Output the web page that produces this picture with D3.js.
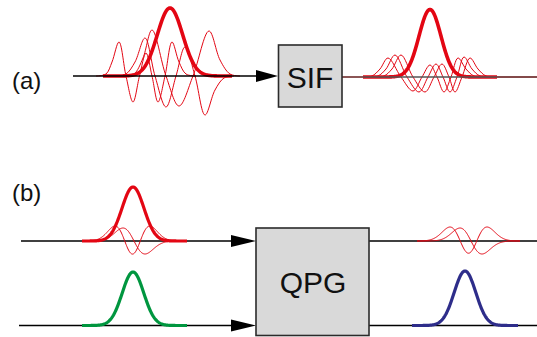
<!DOCTYPE html>
<html>
<head>
<meta charset="utf-8">
<script src="https://cdn.jsdelivr.net/npm/d3@7"></script>
<style>
body { margin: 0; background: #fff; }
svg text { font-family: "Liberation Sans", Arial, Helvetica, sans-serif; fill: #111; }
</style>
</head>
<body>
<div id="diagram"></div>
<script>
// ---- data (x in px along the beam, height in px above the line) ----

// (a) input: dispersed modes in front of the SIF (lobe positions / heights)
var sifInThin = [
  [[96,0],[106,2],[112,14],[119,34],[126,0],[133,-26],[139.5,0],[146,23],[152,0],[158,-26],[165,0],[172,34],[179,14],[186,2],[196,0]],
  [[116,0],[126,2],[135,14],[145,38],[155,0],[166,-31],[176,0],[185,29],[195,0],[205,-39],[215,-14],[224,-2],[234,0]],
  [[124,0],[134,2],[143,18],[152,46],[166,0],[179,-30],[193,0],[209,45],[220,16],[230,2],[240,0]]
];
// (a) output: higher modes behind the SIF
var sifOutThin = [
  [[363,0],[372,1],[380,8],[388,19],[401,0],[413,-14],[422,0],[430,12],[437,0],[444,-15],[451,0],[458,19],[466,8],[474,1],[485,0]],
  [[369,0],[378,1],[386,8],[395,22],[407,0],[419,-15],[428,0],[436,13],[443,0],[450,-15],[457,0],[464,20],[472,8],[480,1],[491,0]],
  [[375,0],[384,1],[392,8],[401,22],[413,0],[425,-15],[434,0],[442,13],[449,0],[455,-15],[462,0],[470,19],[478,8],[486,1],[497,0]]
];

// hermite-gauss pulses: order, center, width (sigma), height of largest lobe, sign, range
var modeOrder  = [0,   0,   1,   2,   0,   1,   2,   0,   0];
var modeCenter = [170, 430, 134, 132.5, 133, 471, 468.5, 133, 465];
var modeSigma  = [12.7, 11, 11, 11,  11, 11,  11.7, 10.8, 10.8];
var modeHeight = [68,  67.5, 13, 15, 54,  13,  14,  53.5, 54.5];
var modeSign   = [1,   1,  -1,  1,   1,  -1,   1,   1,   1];
var modeFrom   = [103, 363, 84, 84,  82,  417, 417, 82,  412];
var modeTo     = [232, 497, 185, 185, 187, 520, 520, 187, 518];
var modeRow    = ["a", "a", "b1", "b1", "b1", "b1", "b1", "b2", "b2"];
var modeColor  = ["red", "red", "red", "red", "red", "red", "red", "green", "blue"];
var modeThick  = [true, true, false, false, true, false, false, true, true];

var labels = ["(a)", "(b)"];
var boxNames = ["SIF", "QPG"];

// ---- layout ----
var width = 537, height = 337;
var colors = {red: "#e30613", green: "#00963f", blue: "#2e2d8a"};
var baseA = 77, baseB1 = 241, baseB2 = 325.5;

var svg = d3.select("#diagram")
  .append("svg")
    .attr("width", width)
    .attr("height", height);

var x = d3.scaleLinear().domain([0, width]).range([0, width]);
var yRow = {
  a:  d3.scaleLinear().domain([0, 68]).range([baseA, baseA - 68]),
  b1: d3.scaleLinear().domain([0, 54]).range([baseB1, baseB1 - 54]),
  b2: d3.scaleLinear().domain([0, 54]).range([baseB2, baseB2 - 54])
};
var yIn = d3.scaleLinear().domain([0, 68]).range([76, 8]);

function hermite(n, t) {
  var h0 = 1, h1 = 2 * t;
  if (n == 0) return h0;
  for (var k = 1; k < n; k++) {
    var h2 = 2 * t * h1 - 2 * k * h0;
    h0 = h1; h1 = h2;
  }
  return h1;
}
function modeShape(n, t) { return hermite(n, t) * Math.exp(-t * t / 2); }
function modePeak(n) {
  var m = 0;
  for (var t = -6; t <= 6; t += 0.01) m = Math.max(m, Math.abs(modeShape(n, t)));
  return m;
}

// lines with arrows
function beam(x0, x1, y, color) {
  svg.append("line")
    .attr("x1", x(x0)).attr("x2", x(x1))
    .attr("y1", y).attr("y2", y)
    .attr("stroke", color || "#000")
    .attr("stroke-width", 1.4);
}
function arrowHead(tip, y, len) {
  svg.append("path")
    .attr("d", "M" + (tip - len) + "," + (y - 6) + "L" + tip + "," + y + "L" + (tip - len) + "," + (y + 6) + "Z")
    .attr("fill", "#000");
}

var thinLine = d3.line()
  .x(function(d) { return x(d[0]); })
  .curve(d3.curveCatmullRom.alpha(0.5));

// (a) input side
sifInThin.forEach(function(pts) {
  svg.append("path")
    .datum(pts)
    .attr("fill", "none")
    .attr("stroke", colors.red)
    .attr("stroke-width", 1)
    .attr("d", thinLine.y(function(d) { return yIn(d[1]); }));
});
// (a) output side thin curves
sifOutThin.forEach(function(pts) {
  svg.append("path")
    .datum(pts)
    .attr("fill", "none")
    .attr("stroke", colors.red)
    .attr("stroke-width", 1)
    .attr("d", thinLine.y(function(d) { return yRow.a(d[1]); }));
});

// hermite-gauss pulses (thin first, thick on top)
var order = d3.range(modeOrder.length).sort(function(a, b) { return modeThick[a] - modeThick[b]; });
order.forEach(function(i) {
  var pk = modePeak(modeOrder[i]);
  var pts = d3.range(modeFrom[i], modeTo[i] + 0.01, 0.5).map(function(px) {
    var t = (px - modeCenter[i]) / modeSigma[i];
    return [px, modeSign[i] * modeHeight[i] * modeShape(modeOrder[i], t) / pk];
  });
  var y = yRow[modeRow[i]];
  if (i == 0) y = yIn;
  svg.append("path")
    .datum(pts)
    .attr("fill", "none")
    .attr("stroke", colors[modeColor[i]])
    .attr("stroke-width", modeThick[i] ? (modeRow[i] == "a" ? 3.6 : 3.2) : 1)
    .attr("stroke-linejoin", "round")
    .attr("d", d3.line().x(function(d) { return x(d[0]); }).y(function(d) { return y(d[1]); }));
});

// beams
beam(73, 262, 76);
arrowHead(278, 76, 22);
beam(342, 363, baseA, "#5a0e0e");
beam(363, 497, baseA, "#555");
beam(497, width, baseA, "#5a0e0e");

svg.insert("line", ":first-child")
  .attr("x1", 21).attr("x2", 240).attr("y1", baseB1).attr("y2", baseB1)
  .attr("stroke", "#000").attr("stroke-width", 1.4);
svg.insert("line", ":first-child")
  .attr("x1", 19).attr("x2", 240).attr("y1", baseB2).attr("y2", baseB2)
  .attr("stroke", "#000").attr("stroke-width", 1.4);
arrowHead(256, baseB1, 25);
arrowHead(256, baseB2, 25);
svg.insert("line", ":first-child")
  .attr("x1", 369).attr("x2", width).attr("y1", baseB1).attr("y2", baseB1)
  .attr("stroke", "#000").attr("stroke-width", 1.4);
svg.insert("line", ":first-child")
  .attr("x1", 369).attr("x2", width).attr("y1", baseB2).attr("y2", baseB2)
  .attr("stroke", "#000").attr("stroke-width", 1.4);

// boxes
var boxes = [
  {x: 278.5, y: 45, w: 63.5, h: 62, tx: 310, ty: 88},
  {x: 256, y: 228, w: 113, h: 107.5, tx: 313, ty: 293}
];
boxes.forEach(function(b, i) {
  svg.append("rect")
    .attr("x", b.x).attr("y", b.y)
    .attr("width", b.w).attr("height", b.h)
    .attr("fill", "#d9d9d9")
    .attr("stroke", "#2b2b2b")
    .attr("stroke-width", 1.6);
  svg.append("text")
    .attr("x", b.tx).attr("y", b.ty)
    .attr("text-anchor", "middle")
    .attr("font-size", 30)
    .text(boxNames[i]);
});

// panel labels
svg.selectAll(".panel")
  .data(labels)
  .enter().append("text")
    .attr("class", "panel")
    .attr("x", 12)
    .attr("y", function(d, i) { return i == 0 ? 89 : 201; })
    .attr("font-size", 24)
    .text(function(d) { return d; });
</script>
</body>
</html>
